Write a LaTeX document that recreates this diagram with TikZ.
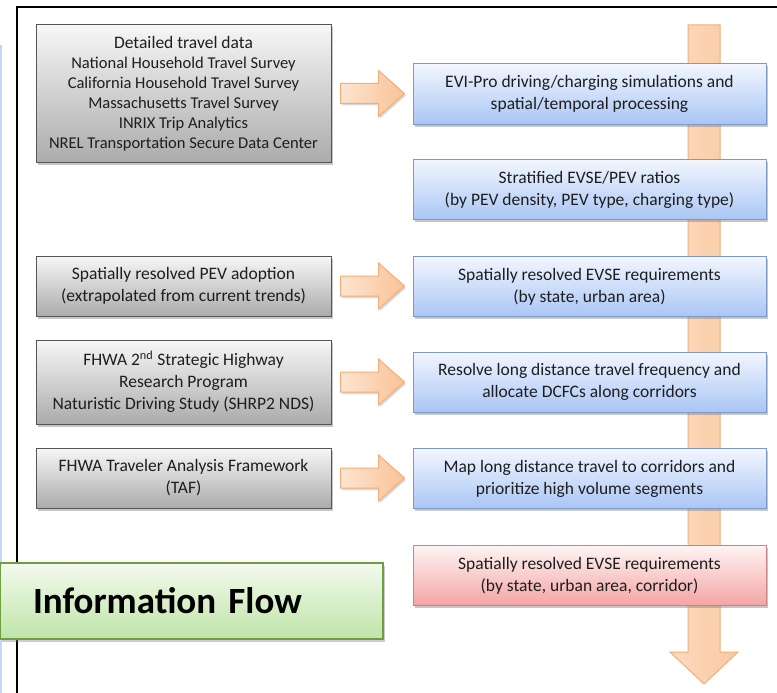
\documentclass[tikz,border=0pt]{standalone}
\usepackage{fontspec}
\setmainfont{Carlito}
\usepackage{xcolor}
\usepackage{tikz}
\usetikzlibrary{calc,shadows}
\definecolor{srcfill}{HTML}{ABABAB}
\definecolor{srcline}{HTML}{555555}
\definecolor{stepfill}{HTML}{A9C6F5}
\definecolor{stepline}{HTML}{7E9AC4}
\definecolor{resfill}{HTML}{F4A4A4}
\definecolor{resline}{HTML}{C98585}
\definecolor{flowfill}{HTML}{BFE5A8}
\definecolor{flowline}{HTML}{6F9E3F}
\definecolor{arrfill}{HTML}{F9C396}
\definecolor{arrline}{HTML}{F2AE78}
\definecolor{txt}{HTML}{1E1E1E}
\tikzset{
    box/.style={draw, line width=1pt, align=center, inner sep=2pt, text=txt,
        font=\fontsize{17.5}{22}\selectfont,
        drop shadow={shadow xshift=2pt, shadow yshift=-2.5pt, opacity=0.45}},
    srcbox/.style={box, draw=srcline, top color=white!90!srcfill, bottom color=srcfill,
        minimum width=295pt, minimum height=60pt},
    stepbox/.style={box, draw=stepline, top color=white!85!stepfill, bottom color=stepfill,
        minimum width=353pt, minimum height=60pt},
    resbox/.style={box, draw=resline, top color=white!88!resfill, bottom color=resfill,
        minimum width=353pt, minimum height=60pt},
    flowarrow/.style={draw=arrline, line width=1pt, left color=white!55!arrfill, right color=arrfill,
        drop shadow={shadow xshift=1.5pt, shadow yshift=-2pt, opacity=0.3}}
}
\begin{document}
\begin{tikzpicture}[x=1pt, y=-1pt]
\useasboundingbox (0,0) rectangle (777,693);
% frame
\draw[line width=1.6pt] (17,693) -- (17,7) -- (777,7);
\draw[line width=2pt, color=stepfill!70] (1,45) -- (1,693);

% main flow arrow behind the steps
\coordinate (flowtop) at (704,25);
\coordinate (flowtip) at (704,684);
\draw[draw=arrline, line width=1pt, left color=white!40!arrfill, right color=arrfill!90]
    ($(flowtop)+(-16,0)$) -- ($(flowtop)+(16,0)$) -- ($(flowtip)+(16,-32)$) -- ($(flowtip)+(34,-32)$)
    -- (flowtip) -- ($(flowtip)+(-34,-32)$) -- ($(flowtip)+(-16,-32)$) -- cycle;

% sources
\node (g1)[srcbox, minimum height=138pt, font=\fontsize{16.5}{20}\selectfont] at (183.5,93.5)
    {{\fontsize{17.5}{20}\selectfont Detailed travel data}\\ National Household Travel Survey\\ California Household Travel Survey\\
     Massachusetts Travel Survey\\ INRIX Trip Analytics\\ NREL Transportation Secure Data Center};
\node (g2)[srcbox] at (183.5,286) {Spatially resolved PEV adoption\\ (extrapolated from current trends)};
\node (g3)[srcbox, minimum height=84pt] at (183.5,382)
    {FHWA 2\textsuperscript{nd} Strategic Highway\\ Research Program\\ Naturistic Driving Study (SHRP2 NDS)};
\node (g4)[srcbox] at (183.5,478) {FHWA Traveler Analysis Framework\\ (TAF)};

% processing steps
\node (b1)[stepbox] at (589.5,94) {EVI-Pro driving/charging simulations and\\ spatial/temporal processing};
\node (b2)[stepbox] at (589.5,189.5) {Stratified EVSE/PEV ratios\\ (by PEV density, PEV type, charging type)};
\node (b3)[stepbox] at (589.5,286.5) {Spatially resolved EVSE requirements\\ (by state, urban area)};
\node (b4)[stepbox] at (589.5,382) {Resolve long distance travel frequency and\\ allocate DCFCs along corridors};
\node (b5)[stepbox] at (589.5,478.5) {Map long distance travel to corridors and\\ prioritize high volume segments};
\node (r1)[resbox] at (589.5,575.5) {Spatially resolved EVSE requirements\\ (by state, urban area, corridor)};

% label
\node (lbl)[draw=flowline, line width=1.2pt, top color=white!80!flowfill, bottom color=flowfill,
    minimum width=383pt, minimum height=76pt, text width=317pt, inner sep=0pt, align=left,
    font=\fontsize{37}{40}\bfseries\selectfont,
    drop shadow={shadow xshift=2pt, shadow yshift=-2.5pt, opacity=0.4}] at (191.5,601) {Information Flow};

% input arrows
\foreach \src/\dst in {g1/b1, g2/b3, g3/b4, g4/b5} {
    \coordinate (s) at ($(\src.east)+(9,0)$);
    \coordinate (e) at ($(\src.east -| \dst.west)+(-8,0)$);
    \draw[flowarrow] ($(s)+(0,-10)$) -- ($(e)+(-26,-10)$) -- ($(e)+(-26,-23)$) -- (e)
        -- ($(e)+(-26,23)$) -- ($(e)+(-26,10)$) -- ($(s)+(0,10)$) -- cycle;
}
\end{tikzpicture}
\end{document}
